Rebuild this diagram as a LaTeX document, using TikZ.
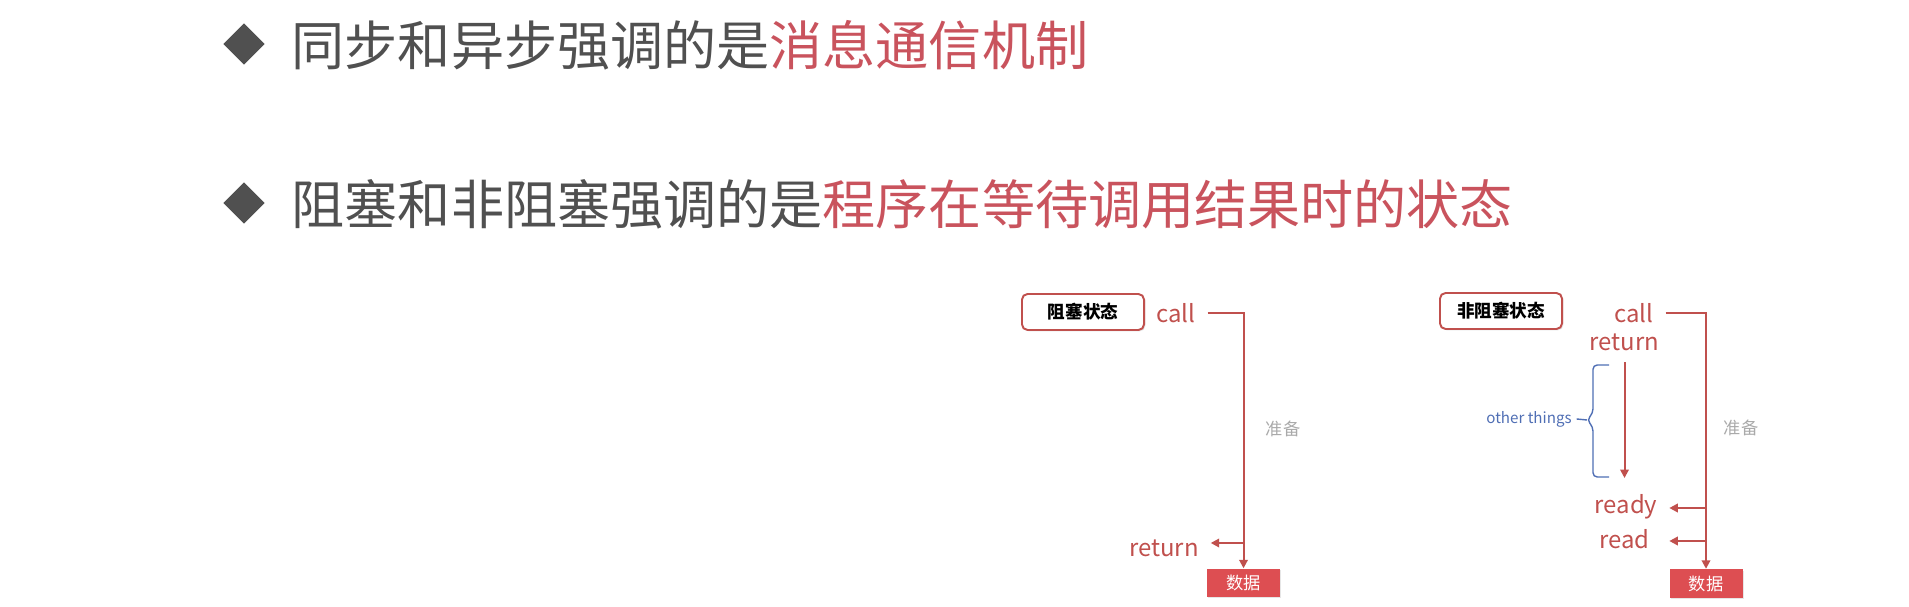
\documentclass[tikz,border=0pt]{standalone}
\usepackage{fontspec}
\setmainfont{Noto Sans CJK SC}
\usetikzlibrary{arrows.meta, shapes.geometric, shadows}

\definecolor{headgray}{RGB}{80,80,80}
\definecolor{headred}{RGB}{201,83,93}
\definecolor{linered}{RGB}{192,80,77}
\definecolor{boxred}{RGB}{221,78,82}
\definecolor{noteblue}{RGB}{79,110,180}
\definecolor{notegray}{RGB}{170,170,170}

\tikzset{
  bullet/.style={diamond, fill=headgray, inner sep=0pt,
    minimum width=0.42cm, minimum height=0.42cm},
  headline/.style={anchor=west, inner sep=0pt, text=headgray,
    font=\fontsize{15.1pt}{18pt}\selectfont},
  statebox/.style={draw=linered, line width=0.55pt, rounded corners=1.6pt,
    fill=white, minimum width=1.22cm, minimum height=0.36cm, inner sep=0pt,
    font=\fontsize{5pt}{6pt}\selectfont\bfseries,
    drop shadow={opacity=0.2, shadow xshift=0.4pt, shadow yshift=-0.4pt}},
  databox/.style={fill=boxred, text=white, minimum width=0.73cm,
    minimum height=0.28cm, inner sep=0pt, font=\fontsize{4.9pt}{6pt}\selectfont,
    drop shadow={opacity=0.2, shadow xshift=0.4pt, shadow yshift=-0.4pt}},
  redlbl/.style={text=linered, inner sep=0pt, outer sep=0.12cm,
    font=\fontsize{6.8pt}{8pt}\selectfont},
  graylbl/.style={text=notegray, inner sep=0pt,
    font=\fontsize{4.9pt}{6pt}\selectfont},
  bluelbl/.style={text=noteblue, inner sep=0pt, outer sep=0.05cm,
    font=\fontsize{4.3pt}{5pt}\selectfont},
  flow/.style={draw=linered, line width=0.57pt,
    -{Triangle[length=2.4pt, width=2.4pt]}},
  bracket/.style={draw=noteblue, line width=0.4pt, rounded corners=1.2pt}
}

\begin{document}
\begin{tikzpicture}[x=0.01cm, y=-0.01cm]
  \useasboundingbox (0,0) rectangle (1909,607);

  % headings
  \node[bullet] (b1) at (244,44) {};
  \node[headline] (h1) at (291,45)
    {同步和异步强调的是\textcolor{headred}{消息通信机制}};
  \node[bullet] (b2) at (244,203) {};
  \node[headline] (h2) at (291,204)
    {阻塞和非阻塞强调的是\textcolor{headred}{程序在等待调用结果时的状态}};

  % blocking
  \begin{scope}
    \node[statebox] (lstate) at (1083,312) {阻塞状态};
    \node[redlbl] (lcall) at (1176,313) {call};
    \node[redlbl] (lret) at (1164,548) {return};
    \node[graylbl] (lprep) at (1283,429) {准备};
    \node[databox] (ldata) at (1243.5,583) {数据};

    % call down to data, then back
    \draw[flow] (lcall.east) -| (ldata.north);
    \draw[flow] (ldata.north |- 0,543) -- (lret.east |- 0,543);
  \end{scope}

  % non-blocking
  \begin{scope}
    \node[statebox] (rstate) at (1501,311) {非阻塞状态};
    \node[redlbl] (rcall) at (1634,313) {call};
    \node[redlbl] (rret) at (1624.5,342) {return};
    \node[redlbl] (rready) at (1626,507) {ready};
    \node[redlbl] (rread) at (1624.5,539) {read};
    \node[graylbl] (rprep) at (1741,428) {准备};
    \node[databox] (rdata) at (1706,583.5) {数据};

    % call down to data
    \draw[flow] (rcall.east) -| (rdata.north);

    % ready and read back
    \draw[flow] (rdata.north |- 0,508) -- (rready.east |- 0,508);
    \draw[flow] (rdata.north |- 0,541) -- (rready.east |- 0,541);

    % doing other things meanwhile
    \draw[flow] (rret.south) -- (rret.south |- 0,478);

    % bracket
    \coordinate (btop) at (1609,365);
    \coordinate (bbot) at (1609,477);
    \coordinate (btip) at (1587,420);
    \node[bluelbl] (other) at (1529,419) {other things};
    \draw[bracket] (btop) -- (1593,365) -- (1593,413) -- (btip)
      -- (1593,427) -- (1593,477) -- (bbot);
    \draw[draw=noteblue, line width=0.4pt] (other.east) -- (btip);
  \end{scope}

\end{tikzpicture}
\end{document}
